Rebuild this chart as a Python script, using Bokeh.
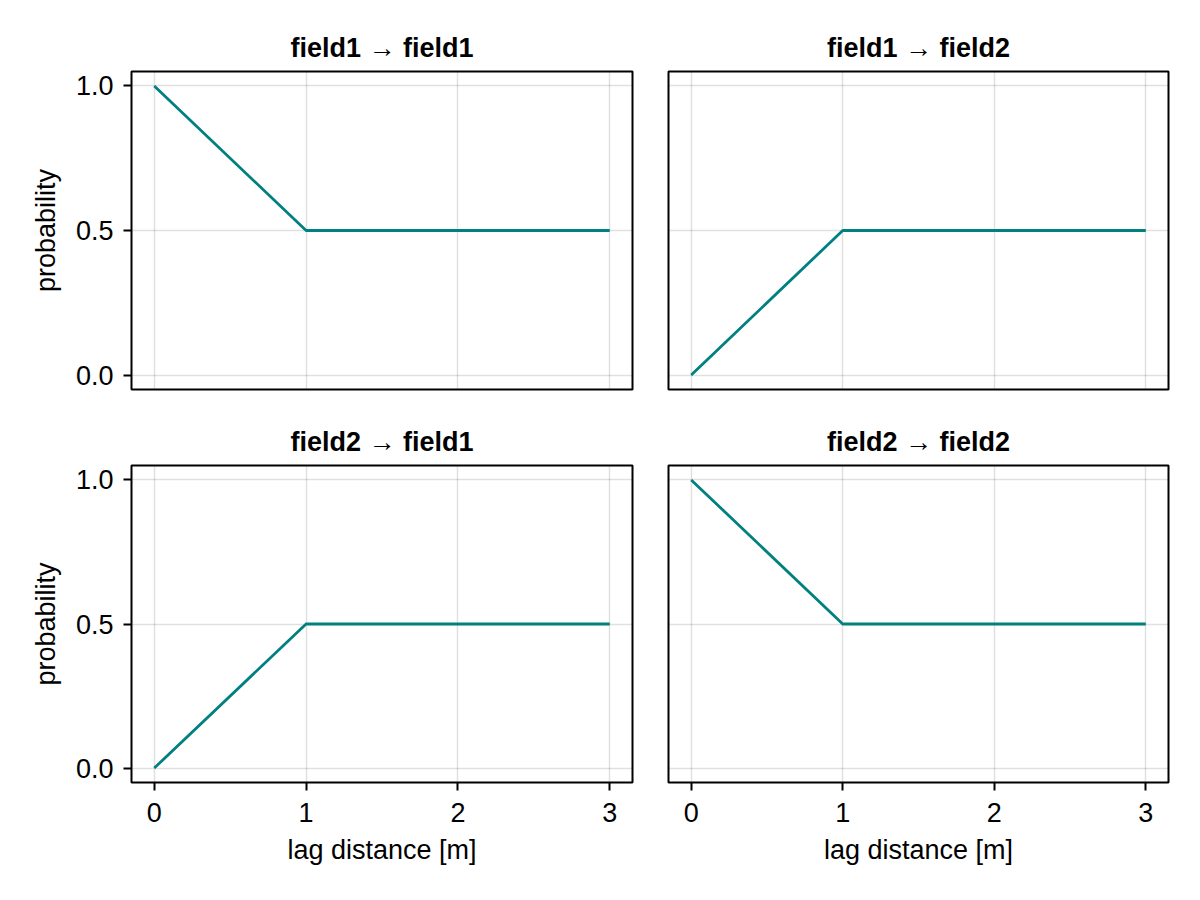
from bokeh.plotting import figure
from bokeh.layouts import column, row
from bokeh.models import Range1d, FixedTicker
from bokeh.embed import file_html
from bokeh.resources import INLINE

# Transition probabilities between two fields as a function of lag distance
lag = [0, 1, 2, 3]
p_11 = [1.0, 0.5, 0.5, 0.5]
p_12 = [0.0, 0.5, 0.5, 0.5]
p_21 = [0.0, 0.5, 0.5, 0.5]
p_22 = [1.0, 0.5, 0.5, 0.5]

x_ticks = [0, 1, 2, 3]
y_ticks = [0.0, 0.5, 1.0]
y_tick_labels = {0.0: "0.0", 0.5: "0.5", 1.0: "1.0"}

titles = ["field1 → field1", "field1 → field2", "field2 → field1", "field2 → field2"]
series = [p_11, p_12, p_21, p_22]

FONT = "Liberation Sans"
FONT_SIZE = "27px"
LINE_COLOR = "#008080"


def panel(title, values, show_x, show_y, borders, frame):
    left, right, top, bottom = borders
    fw, fh = frame
    p = figure(
        width=left + fw + right, height=top + fh + bottom,
        frame_width=fw, frame_height=fh,
        min_border_left=left, min_border_right=right,
        min_border_top=top, min_border_bottom=bottom,
        x_range=Range1d(-0.15, 3.15), y_range=Range1d(-0.05, 1.05),
        output_backend="svg", toolbar_location=None, title=title,
    )
    p.title.align = "center"
    p.title.text_font = FONT
    p.title.text_font_size = FONT_SIZE
    p.title.text_font_style = "bold"
    p.title.text_color = "black"
    p.title.standoff = 17

    p.outline_line_color = "black"
    p.outline_line_width = 2
    p.outline_line_alpha = 1.0
    p.background_fill_color = "white"
    p.border_fill_color = "white"

    p.xaxis.ticker = FixedTicker(ticks=x_ticks)
    p.yaxis.ticker = FixedTicker(ticks=y_ticks)
    p.yaxis.major_label_overrides = y_tick_labels

    for ax in (p.xaxis[0], p.yaxis[0]):
        ax.axis_line_color = None
        ax.major_tick_in = 0
        ax.major_tick_out = 8
        ax.major_tick_line_width = 2
        ax.major_tick_line_color = "black"
        ax.minor_tick_line_color = None
        ax.major_label_text_font = FONT
        ax.major_label_text_font_size = FONT_SIZE
        ax.major_label_text_color = "black"
        ax.axis_label_text_font = FONT
        ax.axis_label_text_font_size = FONT_SIZE
        ax.axis_label_text_font_style = "normal"
        ax.axis_label_text_color = "black"

    p.xaxis.major_label_standoff = 12
    p.yaxis.major_label_standoff = 10
    p.xaxis.axis_label = "lag distance [m]"
    p.yaxis.axis_label = "probability"
    p.xaxis.axis_label_standoff = 10
    p.yaxis.axis_label_standoff = 12
    p.xaxis.visible = show_x
    p.yaxis.visible = show_y

    for g in (p.xgrid[0], p.ygrid[0]):
        g.grid_line_color = "black"
        g.grid_line_alpha = 0.12
        g.grid_line_width = 1.5
    p.xgrid.ticker = FixedTicker(ticks=x_ticks)
    p.ygrid.ticker = FixedTicker(ticks=y_ticks)

    p.line(lag, values, line_color=LINE_COLOR, line_width=2.8)
    return p


tl = panel(titles[0], series[0], False, True, (131, 18, 71, 14), (501, 318))
tr = panel(titles[1], series[1], False, False, (18, 32, 71, 14), (500, 318))
bl = panel(titles[2], series[2], True, True, (131, 18, 62, 118), (501, 317))
br = panel(titles[3], series[3], True, False, (18, 32, 62, 118), (500, 317))

layout = column(row(tl, tr, spacing=0), row(bl, br, spacing=0), spacing=0)

open("out.html", "w").write(file_html(layout, INLINE))
